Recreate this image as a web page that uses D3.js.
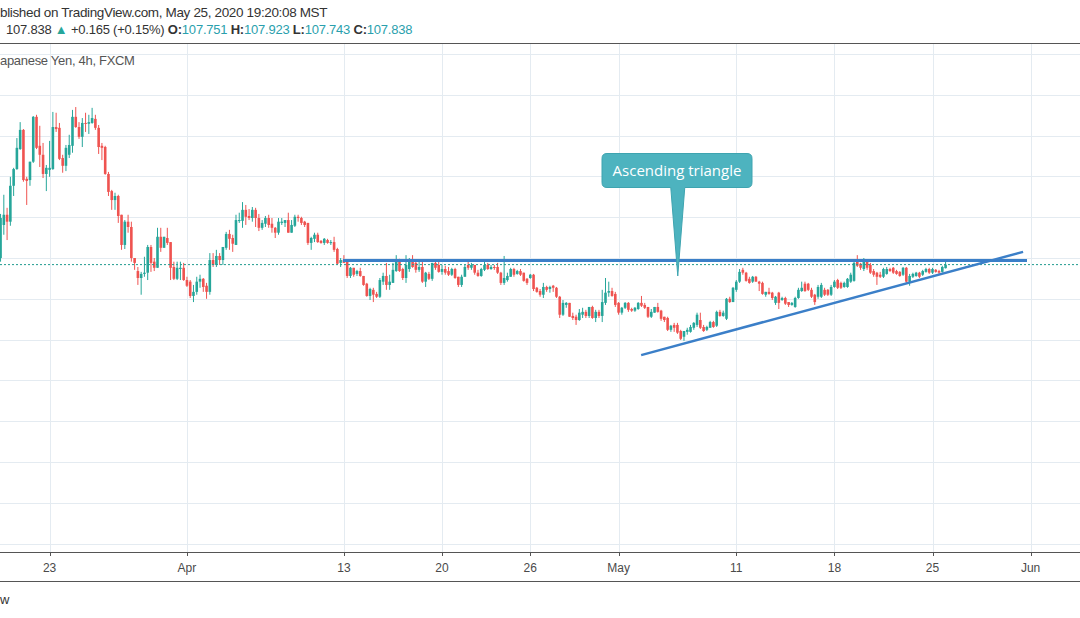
<!DOCTYPE html>
<html><head><meta charset="utf-8">
<script src="https://cdn.jsdelivr.net/npm/d3@7"></script>
<style>html,body{margin:0;padding:0;background:#fff;overflow:hidden}</style>
</head><body><div id="chart"></div>
<script>
// USD/JPY 4h candles, bar 0 = first visible bar (Mar 20 2020), last = May 25 2020
const opens = [
108.00,108.81,109.06,108.89,109.77,110.18,110.67,111.14,109.94,109.91,
110.36,111.46,110.75,110.53,110.06,
110.16,110.18,111.21,111.19,110.45,110.26,110.53,110.75,111.46,111.21,
110.97,111.31,111.29,111.31,111.41,111.19,110.75,110.72,110.06,109.64,
109.42,109.52,109.06,108.32,108.89,108.76,108.00,107.68,107.51,107.61,
107.64,108.27,107.91,107.76,108.52,108.25,108.49,108.39,107.78,107.49,
107.73,107.76,107.46,107.42,107.07,107.17,107.42,107.49,107.32,107.17,
107.95,107.83,108.05,107.95,108.25,108.59,108.49,108.32,108.91,108.91,
109.18,109.03,108.98,109.18,108.98,108.74,108.84,108.98,108.84,108.74,
108.62,108.86,108.86,108.93,108.62,108.79,109.01,108.98,108.89,108.86,
108.37,108.47,108.57,108.42,108.37,108.44,108.37,108.39,108.22,107.88,
107.95,107.91,107.56,107.76,107.61,107.68,107.56,107.37,107.07,107.22,
107.12,107.05,107.42,107.56,107.34,107.39,107.68,107.95,107.73,107.51,
107.73,107.91,107.88,107.71,107.78,107.42,107.61,107.49,107.88,107.83,
107.66,107.73,107.68,107.59,107.73,107.54,107.34,107.54,107.83,107.76,
107.83,107.64,107.56,107.71,107.83,107.73,107.78,107.78,107.64,107.39,
107.46,107.54,107.73,107.61,107.68,107.64,107.49,107.51,107.59,107.27,
107.19,107.10,107.29,107.24,107.32,107.27,107.05,106.61,106.85,106.90,
106.58,106.56,106.48,106.61,106.68,106.58,106.80,106.53,106.68,106.58,
106.90,107.15,107.19,107.12,106.90,106.66,106.78,106.90,106.75,106.71,
106.75,106.90,106.85,106.80,106.56,106.66,106.80,106.71,106.56,106.53,
106.24,106.36,106.36,106.21,106.07,106.19,106.19,106.29,106.36,106.48,
106.31,106.24,106.29,106.43,106.34,106.68,106.58,106.51,107.00,106.92,
107.22,107.42,107.71,107.64,107.49,107.42,107.54,107.42,107.39,107.10,
107.17,107.15,106.90,107.15,106.97,107.02,106.92,106.85,106.80,107.02,
107.19,107.37,107.37,107.22,107.10,107.05,107.05,107.22,107.22,107.10,
107.29,107.46,107.39,107.29,107.29,107.42,107.44,107.93,107.86,107.73,
107.91,107.83,107.68,107.64,107.59,107.54,107.61,107.73,107.76,107.68,
107.66,107.59,107.76,107.42,107.54,107.56,107.64,107.59,107.66,107.73,
107.64,107.71,107.68,107.66,107.751];
const highs = [
109.08,109.55,109.23,109.99,110.21,110.94,111.33,111.16,109.99,110.36,
111.48,111.51,111.24,110.82,110.28,
110.87,111.58,111.56,111.31,110.53,110.77,111.02,111.63,111.70,111.33,
111.43,111.56,111.51,111.68,111.51,111.26,110.82,110.75,110.11,109.67,
109.60,109.55,109.06,108.93,109.06,108.89,108.00,107.78,107.66,108.03,
108.32,108.32,108.00,108.74,108.74,108.52,108.74,108.39,107.91,107.91,
107.91,107.88,107.54,107.46,107.34,107.54,107.59,107.51,107.39,108.12,
108.12,108.20,108.12,108.27,108.64,108.69,108.57,109.06,109.11,109.37,
109.30,109.20,109.25,109.23,109.08,108.93,109.03,109.06,108.98,108.76,
108.98,108.98,108.93,109.11,108.93,109.06,109.06,109.01,108.91,108.86,
108.52,108.62,108.62,108.44,108.49,108.47,108.44,108.52,108.25,108.00,
108.07,107.91,107.78,107.76,107.71,107.76,107.56,107.39,107.27,107.27,
107.17,107.51,107.64,107.88,107.59,107.88,108.07,107.98,107.76,108.07,
108.00,108.07,107.91,107.91,107.91,107.66,107.66,107.88,107.95,107.95,
107.83,107.81,107.78,107.76,107.76,107.54,107.59,107.83,107.91,107.88,
107.83,107.71,107.76,107.91,107.88,107.83,107.83,107.88,107.66,108.05,
107.64,107.76,107.76,107.71,107.73,107.64,107.51,107.61,107.61,107.29,
107.24,107.39,107.32,107.32,107.34,107.29,107.07,106.97,106.92,106.90,
106.66,106.61,106.75,106.78,106.73,106.80,106.83,106.73,106.73,107.22,
107.51,107.42,107.27,107.17,106.92,106.80,106.92,106.92,106.78,106.80,
106.92,107.07,106.90,106.80,106.75,106.80,106.90,106.73,106.56,106.56,
106.36,106.41,106.41,106.24,106.21,106.29,106.36,106.43,106.66,106.66,
106.36,106.34,106.46,106.46,106.71,106.73,106.71,107.02,107.05,107.29,
107.46,107.73,107.76,107.66,107.54,107.56,107.56,107.44,107.42,107.17,
107.27,107.17,107.07,107.17,107.05,107.05,106.92,106.92,107.05,107.27,
107.42,107.42,107.39,107.27,107.12,107.34,107.39,107.27,107.24,107.34,
107.46,107.49,107.42,107.42,107.51,107.64,107.95,108.07,107.88,108.00,
107.93,107.88,107.73,107.66,107.66,107.76,107.78,107.76,107.78,107.71,
107.68,107.78,107.78,107.61,107.64,107.66,107.66,107.71,107.76,107.76,
107.76,107.73,107.71,107.81,107.923];
const lows = [
107.91,108.57,108.44,108.79,109.52,110.16,110.65,109.87,109.30,109.77,
110.33,110.67,110.23,109.96,109.64,
109.99,110.16,111.09,110.40,110.09,110.13,110.45,110.58,111.19,110.92,
110.72,111.09,111.04,111.29,111.14,110.55,110.40,110.04,109.52,109.18,
109.18,108.86,108.20,108.22,108.62,107.91,107.71,107.34,107.10,107.54,
107.46,107.66,107.68,107.76,108.15,108.25,108.32,107.46,107.46,107.46,
107.46,107.44,107.29,107.02,106.92,107.10,107.27,107.17,107.00,107.10,
107.78,107.78,107.83,107.83,108.20,108.20,108.15,108.32,108.86,108.74,
108.81,108.93,108.89,108.76,108.66,108.69,108.76,108.74,108.62,108.49,
108.57,108.81,108.76,108.62,108.62,108.76,108.89,108.81,108.76,108.32,
108.20,108.39,108.37,108.35,108.32,108.35,108.32,108.15,107.83,107.78,
107.88,107.51,107.51,107.54,107.56,107.54,107.32,107.05,106.97,106.92,
107.02,107.02,107.34,107.22,107.22,107.39,107.66,107.66,107.46,107.39,
107.66,107.76,107.64,107.66,107.39,107.29,107.46,107.44,107.71,107.64,
107.59,107.59,107.56,107.56,107.49,107.29,107.29,107.54,107.71,107.71,
107.59,107.54,107.54,107.68,107.71,107.71,107.71,107.61,107.34,107.34,
107.42,107.54,107.54,107.59,107.56,107.42,107.34,107.49,107.19,107.15,
107.05,107.02,107.17,107.15,107.17,107.02,106.53,106.58,106.78,106.56,
106.48,106.36,106.46,106.53,106.53,106.53,106.51,106.43,106.53,106.43,
106.85,107.05,107.05,106.80,106.61,106.61,106.75,106.68,106.68,106.68,
106.73,106.80,106.75,106.53,106.53,106.66,106.66,106.46,106.43,106.21,
106.19,106.19,106.14,105.99,105.97,106.12,106.17,106.24,106.31,106.26,
106.19,106.21,106.29,106.29,106.31,106.56,106.56,106.48,106.90,106.92,
107.17,107.39,107.59,107.42,107.37,107.39,107.42,107.19,107.10,107.05,
107.10,106.97,106.85,106.75,106.95,106.85,106.80,106.83,106.78,107.00,
107.17,107.17,107.19,107.02,106.85,107.00,107.02,107.07,107.07,107.07,
107.27,107.24,107.24,107.27,107.27,107.39,107.42,107.78,107.71,107.68,
107.71,107.61,107.54,107.34,107.51,107.51,107.59,107.66,107.61,107.59,
107.54,107.56,107.39,107.32,107.51,107.54,107.51,107.56,107.64,107.61,
107.61,107.64,107.61,107.64,107.743];
const closes = [
108.98,109.06,108.89,109.77,110.18,110.70,111.14,109.91,109.89,110.36,
111.46,110.70,110.53,110.06,110.21,
110.21,111.21,111.16,110.43,110.26,110.70,110.77,111.46,111.21,110.97,
111.31,111.29,111.33,111.43,111.19,110.72,110.70,110.06,109.62,109.42,
109.52,109.03,108.32,108.89,108.76,108.00,107.88,107.51,107.61,107.64,
108.27,107.88,107.76,108.52,108.25,108.52,108.37,107.76,107.49,107.76,
107.76,107.46,107.32,107.07,107.17,107.42,107.49,107.29,107.17,107.95,
107.83,108.05,107.95,108.27,108.59,108.47,108.35,108.93,108.93,109.18,
109.01,108.98,109.18,108.98,108.74,108.86,108.98,108.81,108.74,108.62,
108.89,108.89,108.93,108.62,108.81,109.01,108.98,108.86,108.81,108.37,
108.49,108.57,108.39,108.37,108.47,108.37,108.39,108.20,107.86,107.95,
107.88,107.56,107.76,107.59,107.68,107.56,107.34,107.07,107.24,107.10,
107.05,107.46,107.56,107.34,107.42,107.71,107.91,107.68,107.51,107.83,
107.93,107.78,107.71,107.78,107.42,107.64,107.49,107.88,107.76,107.66,
107.73,107.64,107.59,107.73,107.51,107.34,107.54,107.78,107.76,107.83,
107.64,107.56,107.73,107.83,107.73,107.78,107.76,107.64,107.39,107.51,
107.56,107.73,107.59,107.68,107.59,107.44,107.39,107.59,107.24,107.17,
107.10,107.29,107.22,107.29,107.27,107.05,106.61,106.90,106.90,106.56,
106.53,106.48,106.66,106.68,106.58,106.80,106.53,106.68,106.58,106.92,
107.15,107.19,107.07,106.85,106.66,106.78,106.90,106.73,106.71,106.78,
106.90,106.83,106.78,106.56,106.68,106.80,106.68,106.51,106.48,106.24,
106.34,106.29,106.17,106.02,106.21,106.24,106.31,106.41,106.61,106.29,
106.21,106.31,106.43,106.31,106.68,106.58,106.66,107.00,106.92,107.27,
107.42,107.66,107.64,107.44,107.39,107.54,107.42,107.37,107.12,107.17,
107.12,107.02,107.05,106.90,107.02,106.88,106.85,106.90,107.02,107.22,
107.27,107.19,107.22,107.05,106.92,107.29,107.34,107.10,107.10,107.29,
107.42,107.27,107.27,107.39,107.49,107.59,107.88,107.81,107.76,107.95,
107.76,107.64,107.59,107.54,107.54,107.73,107.73,107.68,107.64,107.61,
107.56,107.76,107.42,107.56,107.61,107.64,107.54,107.68,107.73,107.64,
107.73,107.66,107.64,107.78,107.838];

const tickLabels = ["23","Apr","13","20","26","May","11","18","25","Jun"];
const tickBars   = [15, 57, 105, 135, 162, 189, 225, 255, 285, 315];
const priceGrid  = [101,102,103,104,105,106,107,108,109,110,111,112,113];
const lastPrice = 107.838;
const resistance = [[104.7, 107.94], [313.9, 107.94]];
const support    = [[195.9, 105.62], [312.7, 108.15]];
const calloutText = "Ascending triangle";
const calloutAnchor = [207.1, 107.56];

const W = 1080, H = 618;
const svg = d3.select("#chart").append("svg").attr("width", W).attr("height", H)
  .style("font-family", "'Liberation Sans', Arial, sans-serif");
svg.append("rect").attr("width", W).attr("height", H).attr("fill", "#fff");

const plotTop = 44, plotBottom = 552;
const x = d3.scaleLinear().domain([0, 315]).range([0.55, 1030.6]);
const y = d3.scaleLinear().domain([101, 113]).range([543.6, 54.0]);

// grid
const grid = svg.append("g");
grid.selectAll("line.h").data(priceGrid).join("line")
  .attr("x1", 0).attr("x2", W).attr("y1", d => Math.round(y(d)) + 0.5).attr("y2", d => Math.round(y(d)) + 0.5)
  .attr("stroke", "#e4ebf1").attr("stroke-width", 1);
grid.selectAll("line.v").data(tickBars).join("line")
  .attr("x1", d => Math.round(x(d)) + 0.5).attr("x2", d => Math.round(x(d)) + 0.5)
  .attr("y1", plotTop).attr("y2", plotBottom)
  .attr("stroke", "#e4ebf1").attr("stroke-width", 1);

// header
svg.append("text").attr("x", 0).attr("y", 17).attr("font-size", 13.5).attr("letter-spacing", -0.35).attr("fill", "#333")
  .text("blished on TradingView.com, May 25, 2020 19:20:08 MST");
const l2 = svg.append("text").attr("x", 6).attr("y", 34).attr("font-size", 13).attr("letter-spacing", -0.22).attr("fill", "#333");
const teal = "#26a69a", val = "#2a9fad";
l2.append("tspan").text("107.838 ");
l2.append("tspan").attr("fill", teal).text("▲");
l2.append("tspan").text(" +0.165 (+0.15%) ");
[["O:", "107.751"], ["H:", "107.923"], ["L:", "107.743"], ["C:", "107.838"]].forEach(([k, v], i) => {
  l2.append("tspan").attr("font-weight", "bold").text(k);
  l2.append("tspan").attr("fill", val).text(v + (i < 3 ? " " : ""));
});
svg.append("line").attr("x1", 0).attr("x2", W).attr("y1", 43.5).attr("y2", 43.5)
  .attr("stroke", "#555", ).attr("stroke-width", 1.2);
svg.append("text").attr("x", 0).attr("y", 65).attr("font-size", 13).attr("letter-spacing", -0.3).attr("fill", "#555")
  .text("apanese Yen, 4h, FXCM");

// candles
const bars = closes.map((c, i) => ({i, o: opens[i], h: highs[i], l: lows[i], c}));
const up = "#26a69a", down = "#ef5350";
const cg = svg.append("g");
cg.selectAll("line.wick").data(bars).join("line")
  .attr("x1", d => x(d.i)).attr("x2", d => x(d.i))
  .attr("y1", d => y(d.h)).attr("y2", d => y(d.l))
  .attr("stroke", d => d.c >= d.o ? up : down).attr("stroke-width", 1);
const bw = 2.6;
cg.selectAll("rect").data(bars).join("rect")
  .attr("x", d => x(d.i) - bw / 2).attr("width", bw)
  .attr("y", d => y(Math.max(d.o, d.c)))
  .attr("height", d => Math.max(1, Math.abs(y(d.o) - y(d.c))))
  .attr("fill", d => d.c >= d.o ? up : down);

// last price dotted line
svg.append("line").attr("x1", 0).attr("x2", W)
  .attr("y1", y(lastPrice)).attr("y2", y(lastPrice))
  .attr("stroke", "#1f9a8e").attr("stroke-width", 1).attr("stroke-dasharray", "2,2");

// drawings
const line = d3.line().x(d => x(d[0])).y(d => y(d[1]));
svg.append("path").attr("d", line(resistance)).attr("stroke", "#3b7fc8").attr("stroke-width", 3).attr("fill", "none");
svg.append("path").attr("d", line(support)).attr("stroke", "#3b7fc8").attr("stroke-width", 2.5).attr("fill", "none");

// callout
const ax = x(calloutAnchor[0]), ay = y(calloutAnchor[1]);
const bx0 = 602, bx1 = 752, by0 = 153.5, by1 = 187.5, r = 5;
const pl = ax - 7, pr = ax + 7;
const cp = d3.path();
cp.moveTo(bx0 + r, by0);
cp.lineTo(bx1 - r, by0); cp.quadraticCurveTo(bx1, by0, bx1, by0 + r);
cp.lineTo(bx1, by1 - r); cp.quadraticCurveTo(bx1, by1, bx1 - r, by1);
cp.lineTo(pr, by1); cp.lineTo(ax, ay); cp.lineTo(pl, by1);
cp.lineTo(bx0 + r, by1); cp.quadraticCurveTo(bx0, by1, bx0, by1 - r);
cp.lineTo(bx0, by0 + r); cp.quadraticCurveTo(bx0, by0, bx0 + r, by0);
cp.closePath();
svg.append("path").attr("d", cp.toString()).attr("fill", "#4db3bf").attr("stroke", "#3ea4b0").attr("stroke-width", 1);
svg.append("text").attr("x", (bx0 + bx1) / 2).attr("y", 175.5).attr("text-anchor", "middle")
  .attr("font-family", "'Open Sans', sans-serif").attr("font-size", 15).attr("fill", "#fff")
  .text(calloutText);

// time axis
svg.append("rect").attr("x", 0).attr("y", plotBottom).attr("width", W).attr("height", 30).attr("fill", "#fff");
svg.append("line").attr("x1", 0).attr("x2", W).attr("y1", plotBottom + 0.5).attr("y2", plotBottom + 0.5)
  .attr("stroke", "#555").attr("stroke-width", 1.2);
svg.append("line").attr("x1", 0).attr("x2", W).attr("y1", 581.5).attr("y2", 581.5)
  .attr("stroke", "#555").attr("stroke-width", 1.2);
const axg = svg.append("g").attr("transform", `translate(0,${plotBottom})`);
axg.selectAll("line").data(tickBars).join("line")
  .attr("x1", d => Math.round(x(d)) + 0.5).attr("x2", d => Math.round(x(d)) + 0.5)
  .attr("y1", 0).attr("y2", 4).attr("stroke", "#555");
axg.selectAll("text").data(tickBars).join("text")
  .attr("x", d => x(d)).attr("y", 20).attr("text-anchor", "middle")
  .attr("font-size", 12).attr("fill", "#4a4a4a")
  .text((d, i) => tickLabels[i]);

svg.append("text").attr("x", 0).attr("y", 604).attr("font-size", 13).attr("fill", "#333").text("w");
</script></body></html>
